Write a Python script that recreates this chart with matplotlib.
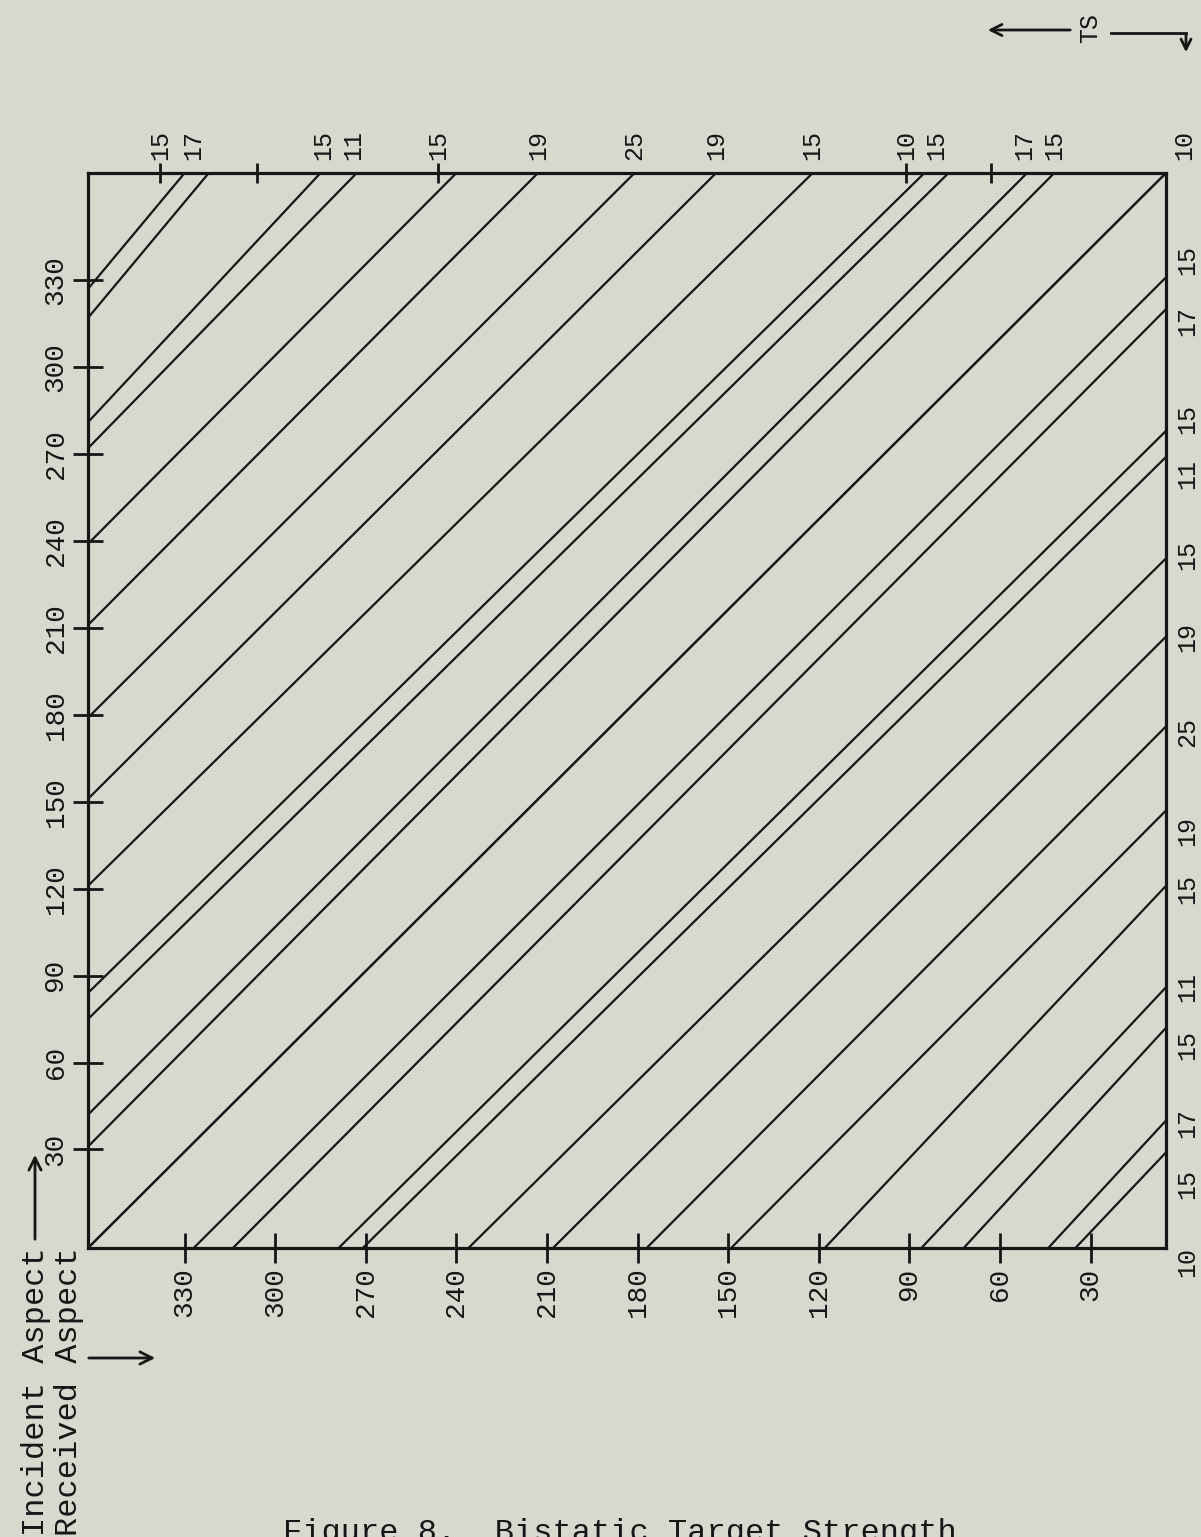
import matplotlib
matplotlib.use("Agg")
import matplotlib.pyplot as plt
from matplotlib.lines import Line2D
from matplotlib.patches import FancyArrowPatch

W, H = 1201, 1537
paper = "#d8d9ce"
ink = "#161616"
plt.rcParams['font.family'] = ['Liberation Mono', 'DejaVu Sans Mono']

# aspect scales in degrees (hand drawn, so the box is not exactly 0..360)
received_lim = (362, 5)
incident_lim = (-4, 367)
received_ticks = [330, 300, 270, 240, 210, 180, 150, 120, 90, 60, 30]
incident_ticks = [30, 60, 90, 120, 150, 180, 210, 240, 270, 300, 330]

# lower right lines: from the bottom edge (received) to the right edge (incident)
lower_start_received = [327, 314, 279, 271, 236, 208, 177, 149, 118, 86, 72, 44, 35]
lower_end_incident = [331, 320, 278, 269, 234, 207, 176, 147, 121, 86, 72, 40, 29]
# upper left lines: from the left edge (incident) to the top edge (received)
upper_start_incident = [327, 317, 281, 272, 239, 211, 179, 151, 121, 84, 75, 42, 31]
upper_end_received = [330, 322, 285, 273, 240, 213, 181, 154, 122, 85, 77, 51, 42]

# TS values written along the top edge and along the right edge
ts_top_received = [338, 327, 284, 274, 246, 213, 181, 154, 122, 91, 81, 52, 42, -1]
ts_top_values = [15, 17, 15, 11, 15, 19, 25, 19, 15, 10, 15, 17, 15, 10]
ts_right_incident = [337, 316, 282, 263, 235, 207, 174, 140, 120, 86, 66, 39, 18, -9]
ts_right_values = [15, 17, 15, 11, 15, 19, 25, 19, 15, 11, 15, 17, 15, 10]
# small cross marks on the top edge
top_marks_received = [338, 306, 246, 91, 63]


def fig_xy(x, y):
    # pixel position measured from the top left corner -> figure fraction
    return x / W, 1 - y / H


fig = plt.figure(figsize=(W / 100, H / 100), dpi=100, facecolor=paper)
ax = fig.add_axes([88 / W, 1 - 1248 / H, 1078 / W, 1075 / H])
ax.set_facecolor(paper)
ax.set_xlim(*received_lim)
ax.set_ylim(*incident_lim)

for s in ax.spines.values():
    s.set_linewidth(2.3)
    s.set_color(ink)

# main diagonal corner to corner
ax.plot(received_lim, incident_lim, color=ink, lw=1.8)

for r0, i1 in zip(lower_start_received, lower_end_incident):
    ax.plot([r0, received_lim[1]], [incident_lim[0], i1], color=ink, lw=1.6)

for i0, r1 in zip(upper_start_incident, upper_end_received):
    ax.plot([received_lim[0], r1], [i0, incident_lim[1]], color=ink, lw=1.6)

ax.plot(top_marks_received, [incident_lim[1]] * len(top_marks_received),
        ls='none', marker='|', ms=14, mew=2, color=ink, clip_on=False)

ax.set_xticks(received_ticks)
ax.set_yticks(incident_ticks)
ax.tick_params(direction='inout', length=22, width=2, colors=ink,
               labelsize=20, pad=3)
ax.tick_params(axis='x', labelrotation=90)
for lab in ax.get_yticklabels():
    lab.set_rotation(90)
    lab.set_va('center')

for r, v in zip(ts_top_received, ts_top_values):
    ax.annotate(str(v), (r, incident_lim[1]), xytext=(0, 9), textcoords='offset points',
                rotation=90, ha='center', va='bottom', fontsize=18, color=ink,
                annotation_clip=False)

for i, v in zip(ts_right_incident, ts_right_values):
    ax.annotate(str(v), (received_lim[1], i), xytext=(7, 0), textcoords='offset points',
                rotation=90, ha='left', va='center', fontsize=18, color=ink,
                annotation_clip=False)

# axis names, written sideways like the rest of the page
fig.text(*fig_xy(36, 1247), "Incident Aspect", rotation=90, ha='center', va='top',
         fontsize=23, color=ink)
fig.text(*fig_xy(69, 1247), "Received Aspect", rotation=90, ha='center', va='top',
         fontsize=23, color=ink)
fig.add_artist(FancyArrowPatch(fig_xy(35, 1242), fig_xy(35, 1152), transform=fig.transFigure,
                               arrowstyle='->', mutation_scale=22, lw=2, color=ink))
fig.add_artist(FancyArrowPatch(fig_xy(86, 1358), fig_xy(158, 1358), transform=fig.transFigure,
                               arrowstyle='->', mutation_scale=22, lw=2, color=ink))

# TS direction marks in the top right corner
fig.text(*fig_xy(1090, 28), "TS", rotation=90, ha='center', va='center', fontsize=18, color=ink)
fig.add_artist(FancyArrowPatch(fig_xy(1073, 30), fig_xy(985, 30), transform=fig.transFigure,
                               arrowstyle='->', mutation_scale=20, lw=2, color=ink))
fig.add_artist(Line2D([1111 / W, 1186 / W], [1 - 33 / H, 1 - 33 / H], transform=fig.transFigure,
                      lw=2, color=ink))
fig.add_artist(FancyArrowPatch(fig_xy(1186, 32), fig_xy(1186, 55), transform=fig.transFigure,
                               arrowstyle='->', mutation_scale=18, lw=2, color=ink))

fig.text(*fig_xy(620, 1518), "Figure 8.  Bistatic Target Strength", ha='center', va='top',
         fontsize=23, color=ink)

fig.savefig("out.png", dpi=100, facecolor=paper)
